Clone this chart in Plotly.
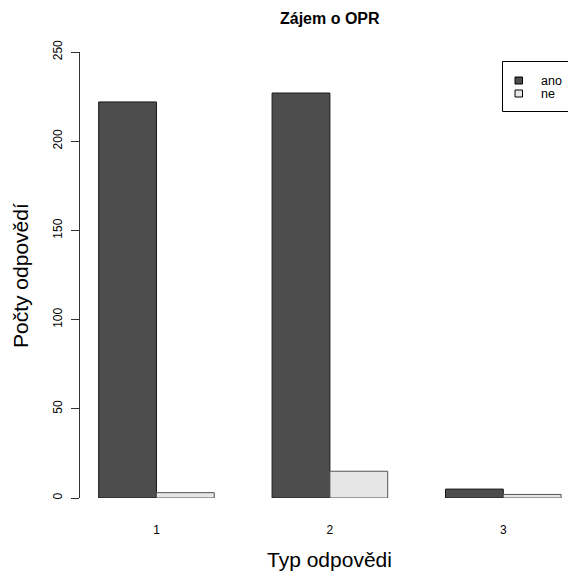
import plotly.graph_objects as go

categories = ["1", "2", "3"]
ano = [222, 227, 5]
ne = [3, 15, 2]
series_names = ["ano", "ne"]
series_colors = ["#4D4D4D", "#E6E6E6"]
series_borders = ["#1a1a1a", "#555555"]
y_ticks = [0, 50, 100, 150, 200, 250]

FONT = "Liberation Sans, Arial, sans-serif"

# plot area in pixels
PL, PR, PT, PB = 80, 568, 52, 498
PW, PH = PR - PL, PB - PT


def px_x(px):
    return (px - PL) / PW


def px_y(py):
    return (PB - py) / PH


fig = go.Figure()
for name, vals, col, bcol in zip(series_names, [ano, ne], series_colors, series_borders):
    fig.add_trace(go.Bar(x=categories, y=vals, name=name,
                         marker=dict(color=col, line=dict(color=bcol, width=1))))

fig.update_layout(
    width=568, height=576,
    margin=dict(l=PL, r=568 - PR, t=PT, b=576 - PB, autoexpand=False),
    plot_bgcolor="white", paper_bgcolor="white",
    barmode="group", bargap=1/3, bargroupgap=0,
    font=dict(family=FONT, size=12, color="black"),
    showlegend=False,
    xaxis=dict(type="category", range=[-0.441, 2.373], showline=False, showgrid=False,
               zeroline=False, ticks="", tickfont=dict(size=12), ticklabelstandoff=23),
    yaxis=dict(range=[0, 250], tickvals=y_ticks, showline=True, linecolor="#333333",
               linewidth=1, ticks="outside", ticklen=8, tickcolor="#333333",
               showgrid=False, zeroline=False, tickangle=-90, tickfont=dict(size=12),
               ticklabelstandoff=4),
)

# title and axis titles
fig.add_annotation(text="<b>Zájem o OPR</b>", x=1, xref="x", y=px_y(18), yref="paper",
                   showarrow=False, font=dict(size=16), yanchor="middle")
fig.add_annotation(text="Typ odpovědi", x=1, xref="x", y=px_y(559), yref="paper",
                   showarrow=False, font=dict(size=21), yanchor="middle")
fig.add_annotation(text="Počty odpovědí", x=px_x(20), xref="paper", y=px_y(276), yref="paper",
                   showarrow=False, font=dict(size=21), textangle=-90,
                   xanchor="center", yanchor="middle")

# legend box (clipped at the right edge, as in the reference)
fig.add_shape(type="rect", xref="paper", yref="paper",
              x0=px_x(502.5), x1=px_x(580), y0=px_y(111.5), y1=px_y(61.5),
              line=dict(color="black", width=1), fillcolor="white", layer="above")
for i, (name, col) in enumerate(zip(series_names, series_colors)):
    cy = 80.5 + i * 13
    fig.add_shape(type="rect", xref="paper", yref="paper",
                  x0=px_x(515), x1=px_x(522.5), y0=px_y(cy + 3.5), y1=px_y(cy - 3.5),
                  line=dict(color="black", width=1), fillcolor=col, layer="above")
    fig.add_annotation(text=name, x=px_x(538.5), xref="paper", y=px_y(cy + 0.5), yref="paper",
                       showarrow=False, font=dict(size=12.5), xanchor="left", yanchor="middle")

fig.write_html("out.html", config={"displayModeBar": False},
               post_script="document.body.style.margin='0';document.body.style.overflow='hidden';")
